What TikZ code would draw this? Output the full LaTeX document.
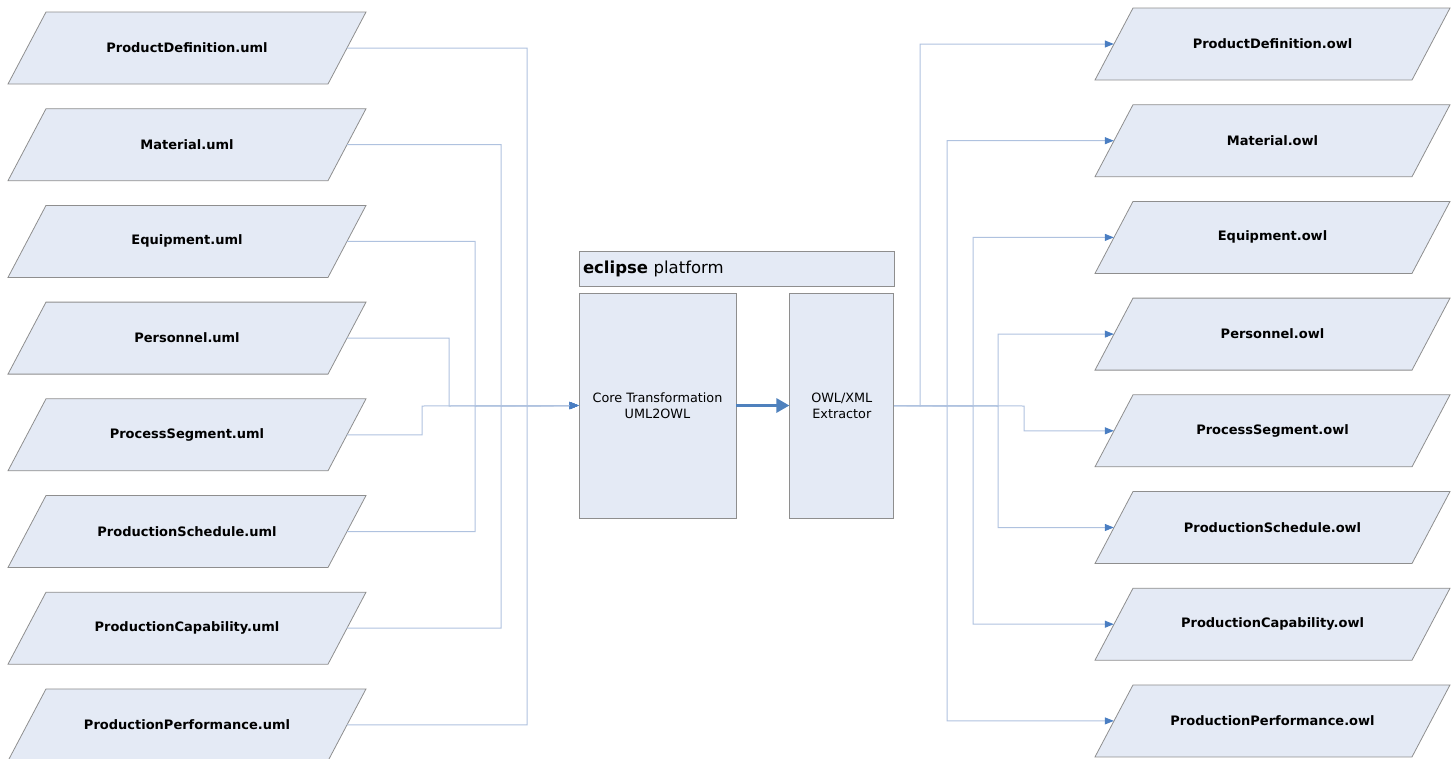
\documentclass[tikz,border=0pt]{standalone}
\usepackage{fontspec}
\setmainfont{DejaVu Sans}
\usetikzlibrary{positioning, arrows.meta}

\definecolor{boxfill}{HTML}{E4EAF5}
\definecolor{boxline}{HTML}{8E8E8E}
\definecolor{wire}{HTML}{AFC2DF}
\definecolor{tipblue}{HTML}{4A7EC2}
\definecolor{flowblue}{HTML}{4F81BD}

\tikzset{
  fileshape/.style={draw=boxline, fill=boxfill, line width=0.8pt},
  filelabel/.style={rectangle, minimum height=72pt, inner sep=0pt,
    font=\fontsize{13}{15}\selectfont\bfseries},
  procbox/.style={rectangle, draw=boxline, fill=boxfill, line width=0.8pt, minimum height=225pt,
    align=center, font=\fontsize{12.8}{16}\selectfont},
  wire/.style={draw=wire, line width=1pt},
  wirearrow/.style={wire, -{Triangle[length=9pt,width=7pt,color=tipblue]}}
}

\begin{document}
\begin{tikzpicture}[x=1pt, y=-1pt]
\useasboundingbox (0,0) rectangle (1451,758);

% processing blocks
\node[procbox, minimum width=157pt] (core) at (657.5,405.5) {Core Transformation\\UML2OWL};
\node[procbox, minimum width=104pt, right=53pt of core] (extr) {OWL/XML\\Extractor};
\node[rectangle, draw=boxline, fill=boxfill, line width=0.8pt, minimum height=35pt, text width=307pt,
  inner xsep=4pt, align=left, font=\fontsize{16.5}{18}\selectfont,
  above right=6pt and 0pt of core.north west] (eclipse) {\textbf{eclipse} platform};

% uml inputs and owl outputs (parallelograms)
\foreach \i/\name in {1/ProductDefinition, 2/Material, 3/Equipment, 4/Personnel,
    5/ProcessSegment, 6/ProductionSchedule, 7/ProductionCapability, 8/ProductionPerformance} {
  \pgfmathsetmacro\ys{48+96.7*(\i-1)}
  \pgfmathsetmacro\yd{44+96.7*(\i-1)}
  \draw[fileshape] (187,\ys) ++(-141,-36) -- ++(320,0) -- ++(-38,72) -- ++(-320,0) -- cycle;
  \node[filelabel, minimum width=320pt] (src\i) at (187,\ys) {\name.uml};
  \draw[fileshape] (1272.5,\yd) ++(-139.5,-36) -- ++(317,0) -- ++(-38,72) -- ++(-317,0) -- cycle;
  \node[filelabel, minimum width=317pt] (dst\i) at (1272.5,\yd) {\name.owl};
}

% wires into the core
\foreach \i/\xc in {1/527, 2/501, 3/475, 4/449, 5/422, 6/475, 7/501, 8/527}
  \draw[wirearrow] (src\i.east) -| (\xc,406) -- (core.west);

% main flow
\draw[flowblue, line width=3pt, -{Triangle[length=13pt,width=14pt]}] (core.east) -- (extr.west);

% wires out of the extractor
\foreach \i/\xc in {1/920, 2/947, 3/973, 4/998, 5/1024, 6/998, 7/973, 8/947}
  \draw[wirearrow] (extr.east) -- (\xc,406) |- (dst\i.west);

\end{tikzpicture}
\end{document}
